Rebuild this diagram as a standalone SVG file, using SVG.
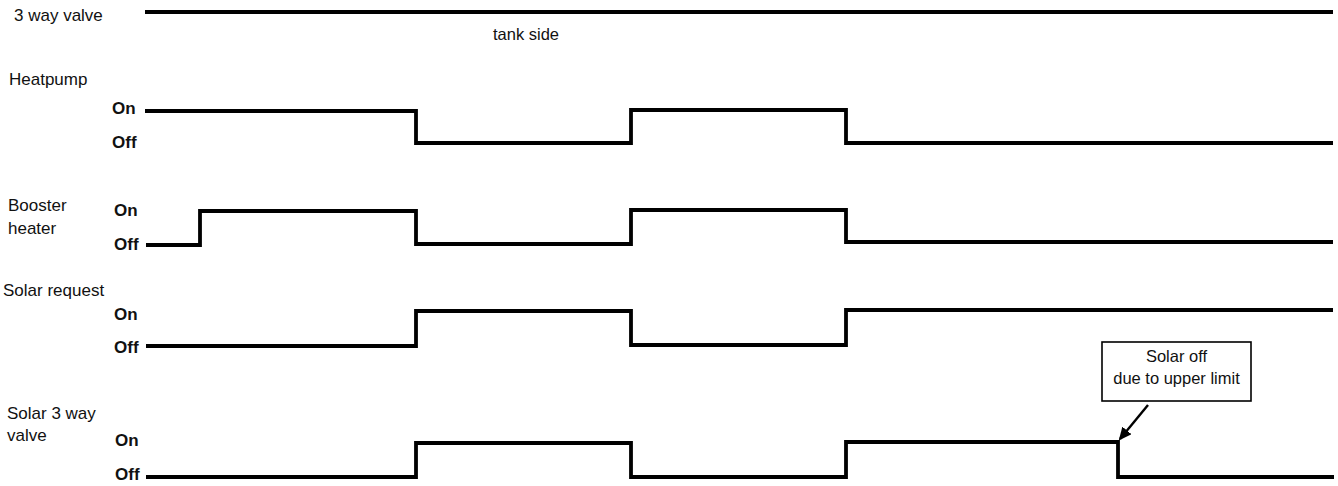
<svg xmlns="http://www.w3.org/2000/svg" width="1338" height="486" viewBox="0 0 1338 486">
<style>
  .lbl { font-family: "Liberation Sans", Arial, sans-serif; font-size: 17px; fill: #111; }
  .st { font-family: "Liberation Sans", Arial, sans-serif; font-size: 17px; font-weight: bold; fill: #111; }
  .note { font-family: "Liberation Sans", Arial, sans-serif; font-size: 16.5px; fill: #111; }
  .sig { fill: none; stroke: #000; stroke-width: 3.8; stroke-linejoin: miter; stroke-linecap: butt; }
  .box { fill: #fff; stroke: #000; stroke-width: 1.6; }
</style>
<defs>
  <marker id="ah" markerWidth="13" markerHeight="12" refX="11" refY="6" orient="auto" markerUnits="userSpaceOnUse">
    <path d="M0,0 L13,6 L0,12 Z" fill="#000"/>
  </marker>
</defs>
<rect width="1338" height="486" fill="#fff"/>

<g id="three-way-valve">
  <text class="lbl" x="14" y="21">3 way valve</text>
  <text class="note" x="493" y="40">tank side</text>
</g>

<g id="heatpump">
  <text class="lbl" x="9" y="85">Heatpump</text>
  <text class="st" x="112" y="114">On</text>
  <text class="st" x="112" y="148">Off</text>
</g>

<g id="booster-heater">
  <text class="lbl" x="8" y="211">Booster</text>
  <text class="lbl" x="8" y="234">heater</text>
  <text class="st" x="114" y="216">On</text>
  <text class="st" x="114" y="250">Off</text>
</g>

<g id="solar-request">
  <text class="lbl" x="3" y="296">Solar request</text>
  <text class="st" x="114" y="320">On</text>
  <text class="st" x="114" y="353">Off</text>
</g>

<g id="solar-3-way-valve">
  <text class="lbl" x="7" y="419">Solar 3 way</text>
  <text class="lbl" x="7" y="441">valve</text>
  <text class="st" x="115" y="446">On</text>
  <text class="st" x="115" y="480">Off</text>
</g>

<g id="callout">
  <rect class="box" x="1102" y="342" width="149" height="59"/>
  <text class="note" x="1176.5" y="362" text-anchor="middle">Solar off</text>
  <text class="note" x="1176.5" y="384" text-anchor="middle">due to upper limit</text>
</g>

<g id="connectors">
  <path class="sig" d="M145,12 H1333"/>
  <path class="sig" d="M145,111 H416 V143 H631 V110 H846 V143 H1333"/>
  <path class="sig" d="M146,245 H200 V211 H416 V244 H631 V210 H846 V242 H1333"/>
  <path class="sig" d="M146,346 H416 V311 H631 V345 H846 V310 H1333"/>
  <path class="sig" d="M146,477 H416 V443 H631 V477 H846 V442 H1118 V477 H1334"/>
  <line x1="1148" y1="405" x2="1120" y2="439" stroke="#000" stroke-width="2.4" marker-end="url(#ah)"/>
</g>
</svg>
